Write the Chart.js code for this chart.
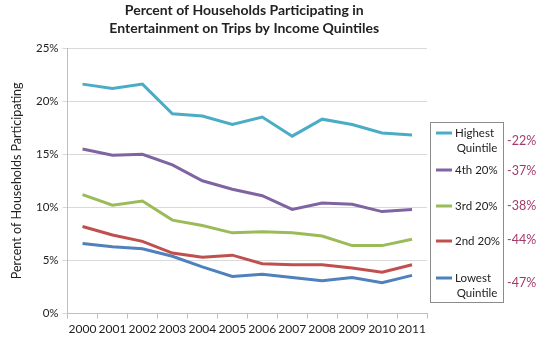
<!DOCTYPE html>
<html>
<head>
<meta charset="utf-8">
<script src="https://cdn.jsdelivr.net/npm/chart.js@4.4.1/dist/chart.umd.min.js"></script>
<style>
  html, body { margin: 0; padding: 0; background: #fff; }
  #wrap { width: 540px; height: 339px; position: relative; }
</style>
</head>
<body>
<div id="wrap"><canvas id="trips"></canvas></div>
<script>
// Data
var years = ["2000", "2001", "2002", "2003", "2004", "2005", "2006", "2007", "2008", "2009", "2010", "2011"];
var highest = [21.6, 21.2, 21.6, 18.8, 18.6, 17.8, 18.5, 16.7, 18.3, 17.8, 17.0, 16.8];
var fourth  = [15.5, 14.9, 15.0, 14.0, 12.5, 11.7, 11.1, 9.8, 10.4, 10.3, 9.6, 9.8];
var third   = [11.2, 10.2, 10.6, 8.8, 8.3, 7.6, 7.7, 7.6, 7.3, 6.4, 6.4, 7.0];
var second  = [8.2, 7.4, 6.8, 5.7, 5.3, 5.5, 4.7, 4.6, 4.6, 4.3, 3.9, 4.6];
var lowest  = [6.6, 6.3, 6.1, 5.4, 4.4, 3.5, 3.7, 3.4, 3.1, 3.4, 2.9, 3.6];
var seriesNames = [["Highest", "Quintile"], ["4th 20%"], ["3rd 20%"], ["2nd 20%"], ["Lowest", "Quintile"]];
var changeLabels = ["-22%", "-37%", "-38%", "-44%", "-47%"];

var colors = ["#4bacc6", "#8064a2", "#9bbb59", "#c0504d", "#4f81bd"];
var font = "Lato, 'Open Sans', sans-serif";

// Title, legend box and the change labels on the right
var sidePlugin = {
    id: "side",
    afterDraw: function (chart) {
        var ctx = chart.ctx;
        var area = chart.chartArea;
        var mid = (area.left + area.right) / 2;
        ctx.save();
        ctx.fillStyle = "#222";
        ctx.textAlign = "center";
        ctx.textBaseline = "middle";
        ctx.font = "bold 14px " + font;
        ctx.fillText("Percent of Households Participating in", mid - 3, 10);
        ctx.fillText("Entertainment on Trips by Income Quintiles", mid - 3, 28);

        var bx = area.right + 3, by = 122;
        ctx.strokeStyle = "#8c8c8c";
        ctx.lineWidth = 1;
        ctx.strokeRect(bx + 0.5, by + 0.5, 73, 180);

        var itemY = [133, 170, 206, 241, 278];
        var changeY = [141, 171, 206, 240, 283];
        ctx.font = "11.5px " + font;
        for (var i = 0; i < seriesNames.length; i++) {
            ctx.strokeStyle = colors[i];
            ctx.lineWidth = 3;
            ctx.beginPath();
            ctx.moveTo(bx + 6, itemY[i]);
            ctx.lineTo(bx + 22, itemY[i]);
            ctx.stroke();
            ctx.fillStyle = "#222";
            ctx.textAlign = "left";
            ctx.fillText(seriesNames[i][0], bx + 25, itemY[i]);
            if (seriesNames[i][1]) {
                ctx.textAlign = "center";
                ctx.fillText(seriesNames[i][1], bx + 47, itemY[i] + 15);
            }
        }
        ctx.fillStyle = "#a33a6b";
        ctx.textAlign = "left";
        ctx.font = "12.5px " + font;
        for (var j = 0; j < changeLabels.length; j++) {
            ctx.fillText(changeLabels[j], area.right + 80, changeY[j]);
        }
        ctx.restore();
    }
};

function mkSet(label, data, color) {
    return {
        label: label,
        data: data,
        borderColor: color,
        backgroundColor: color,
        borderWidth: 3,
        pointRadius: 0,
        tension: 0,
        fill: false
    };
}

var ctx1 = document.getElementById("trips").getContext("2d");
var myChart1 = new Chart(ctx1, {
    type: "line",
    data: {
        labels: years,
        datasets: [
            mkSet("Highest Quintile", highest, colors[0]),
            mkSet("4th 20%", fourth, colors[1]),
            mkSet("3rd 20%", third, colors[2]),
            mkSet("2nd 20%", second, colors[3]),
            mkSet("Lowest Quintile", lowest, colors[4])
        ]
    },
    options: {
        responsive: true,
        maintainAspectRatio: false,
        animation: false,
        layout: { padding: { top: 48, right: 113, bottom: 0, left: 9 } },
        plugins: {
            legend: { display: false },
            tooltip: { enabled: false }
        },
        scales: {
            x: {
                offset: true,
                grid: { offset: true, drawOnChartArea: false, color: "#bfbfbf", tickLength: 5 },
                border: { color: "#bfbfbf" },
                ticks: { color: "#222", font: { family: font, size: 12 }, maxRotation: 0, autoSkip: false, padding: 3 }
            },
            y: {
                min: 0,
                max: 25,
                grid: { color: "#d9d9d9", tickLength: 5 },
                border: { color: "#bfbfbf" },
                ticks: {
                    stepSize: 5,
                    color: "#222",
                    padding: 4,
                    font: { family: font, size: 11.5 },
                    callback: function (v) { return v + "%"; }
                },
                title: {
                    display: true,
                    text: "Percent of Households Participating",
                    color: "#222",
                    font: { family: font, size: 12.5 },
                    padding: { top: 0, bottom: 8 }
                }
            }
        }
    },
    plugins: [sidePlugin]
});
</script>
</body>
</html>
